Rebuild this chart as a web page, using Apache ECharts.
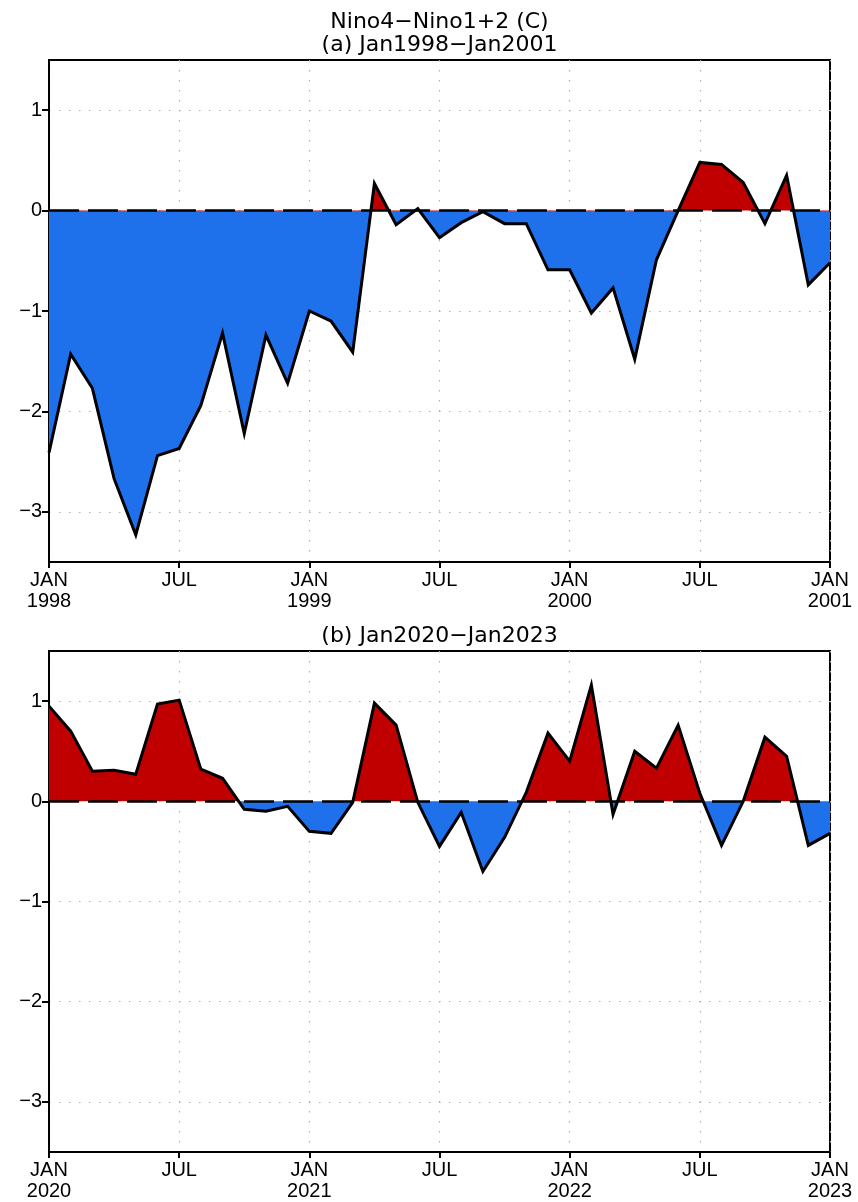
<!DOCTYPE html>
<html>
<head>
<meta charset="utf-8">
<title>Nino4-Nino1+2</title>
<script src="https://cdn.jsdelivr.net/npm/echarts@6/dist/echarts.min.js"></script>
<style>
  html, body { margin: 0; padding: 0; background: #fff; }
  #chart { width: 858px; height: 1202px; }
</style>
</head>
<body>
<div id="chart"></div>
<script>
// monthly values, Jan to Jan (37 months)
const valuesA = [
  -2.41, -1.43, -1.77, -2.67, -3.23, -2.44, -2.37, -1.94, -1.22, -2.22,
  -1.24, -1.72, -1.00, -1.10, -1.41, 0.27, -0.14, 0.02, -0.27, -0.12,
  -0.01, -0.13, -0.13, -0.59, -0.59, -1.02, -0.77, -1.48, -0.49, 0.0,
  0.48, 0.46, 0.28, -0.13, 0.35, -0.74, -0.52
]
const valuesB = [
  0.95, 0.70, 0.30, 0.31, 0.27, 0.97, 1.01, 0.32, 0.23, -0.08,
  -0.10, -0.05, -0.30, -0.32, -0.01, 0.98, 0.76, -0.01, -0.45, -0.11,
  -0.70, -0.36, 0.09, 0.68, 0.40, 1.16, -0.13, 0.50, 0.33, 0.76,
  0.08, -0.44, 0.0, 0.64, 0.45, -0.44, -0.32
]
const tickLabelsA = ['JAN\n1998', 'JUL', 'JAN\n1999', 'JUL', 'JAN\n2000', 'JUL', 'JAN\n2001']
const tickLabelsB = ['JAN\n2020', 'JUL', 'JAN\n2021', 'JUL', 'JAN\n2022', 'JUL', 'JAN\n2023']
const yTicks = [-3, -2, -1, 0, 1]

const RED = '#c00000'
const BLUE = '#1e70eb'
const FONT = 'Liberation Sans'

const chart = echarts.init(document.getElementById('chart'))

function toPairs (arr) {
  return arr.map((v, i) => [i, v])
}

function xAxisFor (idx, labels) {
  return {
    type: 'value',
    gridIndex: idx,
    min: 0,
    max: 36,
    interval: 6,
    axisLine: { show: true, onZero: false, lineStyle: { color: '#000', width: 2 } },
    axisTick: { show: true, length: 6, lineStyle: { color: '#000', width: 2 } },
    axisLabel: {
      color: '#000',
      fontFamily: FONT,
      fontSize: 20,
      lineHeight: 21,
      margin: 8,
      verticalAlign: 'top',
      formatter: (val) => labels[Math.round(val / 6)]
    },
    splitLine: { show: true, lineStyle: { color: '#b0b0b0', width: 1.2, type: [1.5, 8.5] } }
  }
}

function yAxisFor (idx) {
  return {
    type: 'value',
    gridIndex: idx,
    min: -3.5,
    max: 1.5,
    axisLine: { show: true, onZero: false, lineStyle: { color: '#000', width: 2 } },
    axisTick: { show: true, length: 7, customValues: yTicks, lineStyle: { color: '#000', width: 2 } },
    axisLabel: {
      color: '#000',
      fontFamily: FONT,
      fontSize: 20,
      margin: 7,
      customValues: yTicks,
      formatter: (val) => String(val).replace('-', '\u2212')
    },
    splitLine: { show: true, lineStyle: { color: '#b0b0b0', width: 1.2, type: [1.5, 8.5] } }
  }
}

function areaSeries (idx, data) {
  return {
    type: 'line',
    xAxisIndex: idx,
    yAxisIndex: idx,
    data: toPairs(data),
    symbol: 'none',
    silent: true,
    lineStyle: { width: 0.1, opacity: 0 },
    areaStyle: { opacity: 1 },
    z: 2,
    markLine: {
      silent: true,
      symbol: 'none',
      label: { show: false },
      lineStyle: { color: '#000', width: 2.5, type: [30, 9] },
      data: [{ yAxis: 0 }],
      z: 3
    }
  }
}

function outlineSeries (idx, data) {
  return {
    type: 'line',
    xAxisIndex: idx,
    yAxisIndex: idx,
    data: toPairs(data),
    symbol: 'none',
    silent: true,
    lineStyle: { color: '#000', width: 3, join: 'miter', miterLimit: 10 },
    z: 5
  }
}

const titleStyle = { color: '#000', fontFamily: 'DejaVu Sans', fontSize: 22, fontWeight: 'normal', lineHeight: 22 }

chart.setOption({
  animation: false,
  backgroundColor: '#fff',
  title: [
    { text: 'Nino4\u2212Nino1+2 (C)', left: 439.5, top: 11, textAlign: 'center', textStyle: titleStyle, padding: 0 },
    { text: '(a) Jan1998\u2212Jan2001', left: 439.5, top: 34, textAlign: 'center', textStyle: titleStyle, padding: 0 },
    { text: '(b) Jan2020\u2212Jan2023', left: 439.5, top: 625, textAlign: 'center', textStyle: titleStyle, padding: 0 }
  ],
  grid: [
    { left: 49, width: 781, top: 60, height: 502, show: true, borderColor: '#000', borderWidth: 2, backgroundColor: 'transparent' },
    { left: 49, width: 781, top: 651, height: 502, show: true, borderColor: '#000', borderWidth: 2, backgroundColor: 'transparent' }
  ],
  xAxis: [xAxisFor(0, tickLabelsA), xAxisFor(1, tickLabelsB)],
  yAxis: [yAxisFor(0), yAxisFor(1)],
  visualMap: [
    {
      show: false,
      type: 'piecewise',
      seriesIndex: 0,
      dimension: 1,
      pieces: [{ min: -10, max: 0, color: BLUE }, { min: 0, max: 10, color: RED }]
    },
    {
      show: false,
      type: 'piecewise',
      seriesIndex: 2,
      dimension: 1,
      pieces: [{ min: -10, max: 0, color: BLUE }, { min: 0, max: 10, color: RED }]
    }
  ],
  series: [
    areaSeries(0, valuesA),
    outlineSeries(0, valuesA),
    areaSeries(1, valuesB),
    outlineSeries(1, valuesB)
  ]
})
</script>
</body>
</html>
